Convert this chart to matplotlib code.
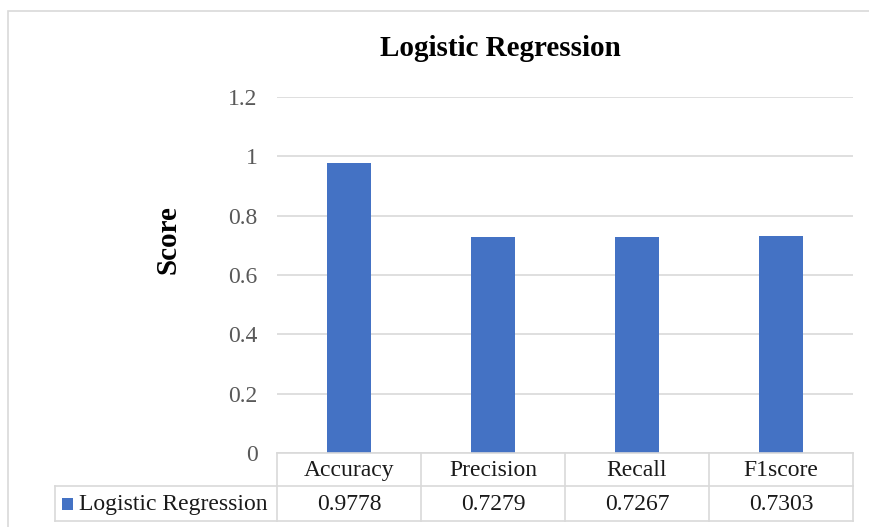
import matplotlib.pyplot as plt
from matplotlib.lines import Line2D
from matplotlib.patches import Rectangle

categories = ["Accuracy", "Precision", "Recall", "F1score"]
scores = [0.9778, 0.7279, 0.7267, 0.7303]
series_name = "Logistic Regression"
yticks = [0, 0.2, 0.4, 0.6, 0.8, 1, 1.2]

W, H = 869, 527
plt.rcParams["font.family"] = ["Liberation Serif", "DejaVu Serif"]
fig = plt.figure(figsize=(W / 100, H / 100), dpi=100)

def fx(px):
    return px / W

def fy(py):
    return 1 - py / H

# chart frame
fig.add_artist(Rectangle((fx(8), fy(600)), fx(900), fy(11) - fy(600), transform=fig.transFigure,
                         fill=False, edgecolor="#d9d9d9", linewidth=1.2))

x0, x1, ytop, ybot = 277, 853, 97, 453
ax = fig.add_axes([fx(x0), fy(ybot), fx(x1 - x0), fy(ytop) - fy(ybot)])
pos = list(range(len(categories)))
ax.bar(pos, scores, width=0.31, color="#4472C4", zorder=3)
ax.set_xlim(-0.5, len(categories) - 0.5)
ax.set_ylim(0, 1.2)
ax.set_yticks(yticks)
ax.set_yticklabels([f"{t:g}" for t in yticks], fontsize=17, color="#595959")
ax.tick_params(axis="y", length=0, pad=14)
ax.set_xticks([])
ax.grid(axis="y", color="#d9d9d9", linewidth=1.2, zorder=0)
for s in ax.spines.values():
    s.set_visible(False)

fig.text(fx(500), fy(49), "Logistic Regression", ha="center", va="center",
         fontsize=21, fontweight="bold")
fig.text(fx(168), fy(240), "Score", ha="center", va="center", rotation=90,
         fontsize=21, fontweight="bold")

# data table under the axis
lc = "#d9d9d9"
tc = "#1a1a1a"
cols = [x0 + (x1 - x0) * i / len(categories) for i in range(len(categories) + 1)]
r0, r1, r2 = 453, 486, 521
tl = 55

def hline(y, xa, xb):
    fig.add_artist(Line2D([fx(xa), fx(xb)], [fy(y), fy(y)], color=lc, lw=1.2))

def vline(x, ya, yb):
    fig.add_artist(Line2D([fx(x), fx(x)], [fy(ya), fy(yb)], color=lc, lw=1.2))

hline(r0, x0, x1)
hline(r1, tl, x1)
hline(r2, tl, x1)
vline(tl, r1, r2)
for c in cols:
    vline(c, r0, r2)

for i, (cat, v) in enumerate(zip(categories, scores)):
    cx = (cols[i] + cols[i + 1]) / 2
    fig.text(fx(cx), fy((r0 + r1) / 2 + 1), cat, ha="center", va="center", fontsize=17, color=tc)
    fig.text(fx(cx), fy((r1 + r2) / 2 + 1), f"{v:.4f}", ha="center", va="center", fontsize=17, color=tc)

fig.add_artist(Rectangle((fx(62), fy(510)), fx(11), fy(498) - fy(510), transform=fig.transFigure,
                         facecolor="#4472C4", edgecolor="none"))
fig.text(fx(79), fy((r1 + r2) / 2 + 1), series_name, ha="left", va="center", fontsize=17, color=tc)

fig.savefig("out.png", dpi=100)
